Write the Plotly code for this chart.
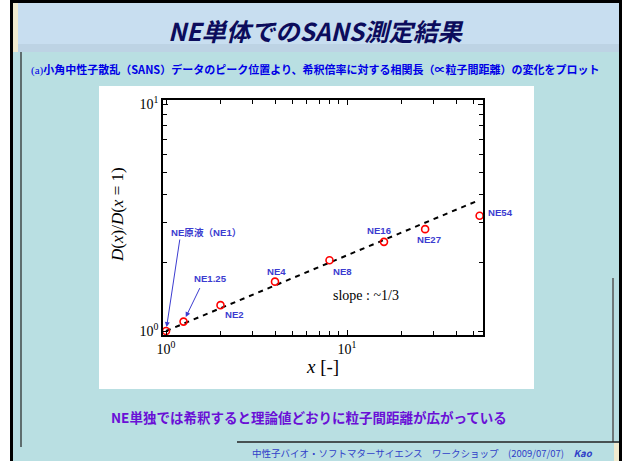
import plotly.graph_objects as go
import math

# ---------------- data ----------------
dilution = [1, 1.25, 2, 4, 8, 16, 27, 54]
d_ratio = [1.00, 1.10, 1.30, 1.65, 2.05, 2.47, 2.81, 3.22]
sample_labels = ["NE原液（NE1）", "NE1.25", "NE2", "NE4", "NE8", "NE16", "NE27", "NE54"]
fit_x = [1, 54]
fit_slope = 1 / 3
fit_y = [v ** fit_slope for v in fit_x]
tick_vals = [1, 10]
tick_text = ["10<sup>0</sup>", "10<sup>1</sup>"]
x_minor_vals = [2, 3, 4, 5, 6, 7, 8, 9, 20, 30, 40, 50]
y_minor_vals = [2, 3, 4, 5, 6, 7, 8, 9]

title_text = "NE単体でのSANS測定結果"
subtitle_text = ("<span style='font-family:Liberation Serif;font-weight:normal'>(a)</span>"
                 "小角中性子散乱（SANS）データのピーク位置より、希釈倍率に対する相関長（∝粒子間距離）の変化をプロット")
conclusion_text = "NE単独では希釈すると理論値どおりに粒子間距離が広がっている"
footer_text = "中性子バイオ・ソフトマターサイエンス　ワークショップ　(2009/07/07)　<i><b>Kao</b></i>"

# ---------------- layout geometry (pixels) ----------------
W, H = 624, 461
L, R, T, B = 163, 483, 100, 335


def px(x):
    return (x - L) / (R - L)


def py(y):
    return (B - y) / (B - T)


LABEL_BLUE = "#3c3cd0"
TEAL = "#b9dfe2"

fig = go.Figure()

fig.add_trace(go.Scatter(
    x=fit_x, y=fit_y, mode="lines",
    line=dict(color="black", width=2, dash="5px,5px"),
    showlegend=False, hoverinfo="skip"))

fig.add_trace(go.Scatter(
    x=dilution, y=d_ratio, mode="markers",
    marker=dict(symbol="circle-open", size=7, color="red", line=dict(width=1.6, color="red")),
    showlegend=False, cliponaxis=False))

# label placement styles (anchor, x shift px, y shift px)
label_style = [
    ("left", 3, 99), ("center", 27, 43), ("left", 2, -9), ("center", 1, 10),
    ("left", 1, -11), ("center", -5, 11), ("center", 4, -10), ("left", 6, 3),
]

annotations = []
for xv, yv, lab, (anc, dx, dy) in zip(dilution, d_ratio, sample_labels, label_style):
    annotations.append(dict(
        x=math.log10(xv), y=math.log10(yv), xref="x", yref="y", text="<b>" + lab + "</b>",
        showarrow=False, xanchor=anc, yanchor="middle", xshift=dx, yshift=dy,
        font=dict(family="Liberation Sans, Noto Sans CJK JP", size=9.6, color=LABEL_BLUE)))

# arrows to the first two points
for xv, yv, ax, ay, so in [(dilution[0], d_ratio[0], 14, -93, 4), (dilution[1], d_ratio[1], 17, -35, 5)]:
    annotations.append(dict(
        x=math.log10(xv), y=math.log10(yv), xref="x", yref="y", text="",
        showarrow=True, ax=ax, ay=ay, arrowhead=2, arrowsize=1, arrowwidth=1,
        arrowcolor=LABEL_BLUE, standoff=so))


def ptext(x, y, text, font, xanchor="center", **kw):
    return dict(x=px(x), y=py(y), xref="paper", yref="paper", text=text, showarrow=False,
                xanchor=xanchor, yanchor="middle", font=font, **kw)


annotations += [
    ptext(366, 295, "slope : ~1/3", dict(family="Liberation Serif", size=14, color="black")),
    ptext(117, 215, "<i>D</i>(<i>x</i>)/<i>D</i>(<i>x</i> = 1)",
          dict(family="Liberation Serif", size=17, color="black"), textangle=-90),
    ptext(322, 366, "<i>x</i> [-]", dict(family="Liberation Serif", size=19, color="black")),
    ptext(316, 30, "<b><i>" + title_text + "</i></b>",
          dict(family="Noto Sans CJK JP", size=24.5, color="#0c0c5c")),
    ptext(29, 69, "<b>" + subtitle_text + "</b>",
          dict(family="Noto Sans CJK JP", size=11, color="#0000e6"), xanchor="left"),
    ptext(109, 417, "<b>" + conclusion_text + "</b>",
          dict(family="Noto Sans CJK JP", size=13.5, color="#6a10d6"), xanchor="left"),
    ptext(250, 453, footer_text,
          dict(family="Noto Sans CJK JP", size=9.5, color="#3040c8"), xanchor="left"),
]


def rect(x0, y0, x1, y1, color):
    return dict(type="rect", xref="paper", yref="paper", x0=px(x0), x1=px(x1), y0=py(y1), y1=py(y0),
                fillcolor=color, line=dict(width=0), layer="below")


def line(x0, y0, x1, y1, color, width):
    return dict(type="line", xref="paper", yref="paper", x0=px(x0), x1=px(x1), y0=py(y0), y1=py(y1),
                line=dict(color=color, width=width), layer="below")


shapes = [
    rect(13, 3, 619, 461, TEAL),
    rect(13, 3, 619, 52, "#c8def0"),
    rect(13, 44, 619, 52, "#bdd3e4"),
    rect(13, 3, 18, 52, "#f1ebcf"),
    rect(99, 86, 534, 389, "white"),
    rect(614, 443, 619, 461, "#f1ebcf"),
    rect(10, 0, 13, 461, "black"),
    rect(10, 0, 622, 3, "black"),
    rect(619, 0, 622, 461, "black"),
    line(21, 52, 21, 447, "#222222", 1.2),
    line(613, 278, 613, 442, "#555555", 1.5),
    line(237, 442, 619, 442, "#222222", 1.5),
]

axis_common = dict(
    type="log", showline=True, linecolor="black", linewidth=1.5, mirror="ticks",
    ticks="inside", ticklen=5, tickwidth=1, tickcolor="black", showgrid=False, zeroline=False,
    tickmode="array", tickvals=tick_vals, ticktext=tick_text,
    tickfont=dict(family="Liberation Serif", size=14, color="black"),
)

fig.update_layout(
    width=W, height=H,
    margin=dict(l=L, r=W - R, t=T, b=H - B, pad=0),
    paper_bgcolor="white", plot_bgcolor="rgba(0,0,0,0)",
    xaxis=dict(**axis_common, range=[-0.0166, 1.751],
               minor=dict(tickmode="array", tickvals=x_minor_vals, ticks="inside", ticklen=4,
                          tickcolor="black", showgrid=False)),
    yaxis=dict(**axis_common, range=[-0.0176, 1.0176],
               minor=dict(tickmode="array", tickvals=y_minor_vals, ticks="inside", ticklen=4,
                          tickcolor="black", showgrid=False)),
    annotations=annotations, shapes=shapes, showlegend=False,
)

fig.write_html("out.html", config={"displayModeBar": False},
               post_script="document.body.style.margin='0';document.body.style.overflow='hidden';")
